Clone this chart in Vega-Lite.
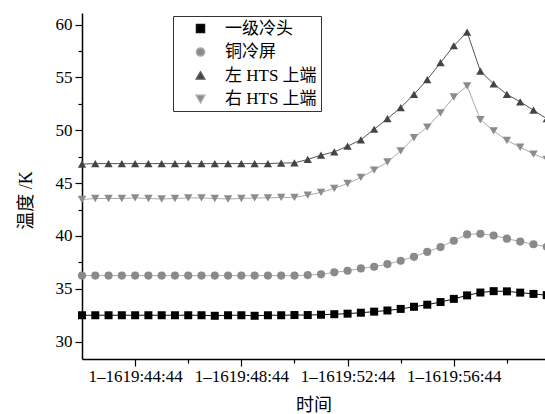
{
  "$schema": "https://vega.github.io/schema/vega-lite/v6.json",
  "width": 463,
  "height": 346,
  "autosize": {"type": "none"},
  "padding": {"left": 82, "top": 13, "right": 0, "bottom": 55},
  "background": "white",
  "config": {
    "view": {"stroke": null},
    "font": "Liberation Serif, Noto Sans CJK SC",
    "axis": {
      "grid": false,
      "domainColor": "#000",
      "tickColor": "#000",
      "labelColor": "#000",
      "titleColor": "#000",
      "labelFont": "Liberation Serif, Noto Sans CJK SC",
      "titleFont": "Liberation Serif, Noto Sans CJK SC",
      "titleFontWeight": "normal",
      "domainWidth": 1.5,
      "tickWidth": 1.2
    },
    "legend": {"labelFont": "Liberation Serif, Noto Sans CJK SC"}
  },
  "data": {
    "values": [
      {"time": "2016-01-16T19:42:44", "一级冷头": 32.5, "铜冷屏": 36.25, "左 HTS 上端": 46.8, "右 HTS 上端": 43.45},
      {"time": "2016-01-16T19:43:14", "一级冷头": 32.5, "铜冷屏": 36.25, "左 HTS 上端": 46.85, "右 HTS 上端": 43.55},
      {"time": "2016-01-16T19:43:44", "一级冷头": 32.5, "铜冷屏": 36.25, "左 HTS 上端": 46.85, "右 HTS 上端": 43.55},
      {"time": "2016-01-16T19:44:14", "一级冷头": 32.5, "铜冷屏": 36.25, "左 HTS 上端": 46.85, "右 HTS 上端": 43.55},
      {"time": "2016-01-16T19:44:44", "一级冷头": 32.5, "铜冷屏": 36.25, "左 HTS 上端": 46.85, "右 HTS 上端": 43.6},
      {"time": "2016-01-16T19:45:14", "一级冷头": 32.5, "铜冷屏": 36.25, "左 HTS 上端": 46.85, "右 HTS 上端": 43.55},
      {"time": "2016-01-16T19:45:44", "一级冷头": 32.5, "铜冷屏": 36.25, "左 HTS 上端": 46.85, "右 HTS 上端": 43.5},
      {"time": "2016-01-16T19:46:14", "一级冷头": 32.5, "铜冷屏": 36.25, "左 HTS 上端": 46.85, "右 HTS 上端": 43.55},
      {"time": "2016-01-16T19:46:44", "一级冷头": 32.5, "铜冷屏": 36.25, "左 HTS 上端": 46.85, "右 HTS 上端": 43.6},
      {"time": "2016-01-16T19:47:14", "一级冷头": 32.5, "铜冷屏": 36.25, "左 HTS 上端": 46.85, "右 HTS 上端": 43.6},
      {"time": "2016-01-16T19:47:44", "一级冷头": 32.45, "铜冷屏": 36.25, "左 HTS 上端": 46.85, "右 HTS 上端": 43.55},
      {"time": "2016-01-16T19:48:14", "一级冷头": 32.5, "铜冷屏": 36.25, "左 HTS 上端": 46.85, "右 HTS 上端": 43.5},
      {"time": "2016-01-16T19:48:44", "一级冷头": 32.5, "铜冷屏": 36.25, "左 HTS 上端": 46.85, "右 HTS 上端": 43.55},
      {"time": "2016-01-16T19:49:14", "一级冷头": 32.45, "铜冷屏": 36.25, "左 HTS 上端": 46.85, "右 HTS 上端": 43.6},
      {"time": "2016-01-16T19:49:44", "一级冷头": 32.5, "铜冷屏": 36.25, "左 HTS 上端": 46.85, "右 HTS 上端": 43.6},
      {"time": "2016-01-16T19:50:14", "一级冷头": 32.5, "铜冷屏": 36.25, "左 HTS 上端": 46.9, "右 HTS 上端": 43.65},
      {"time": "2016-01-16T19:50:44", "一级冷头": 32.52, "铜冷屏": 36.25, "左 HTS 上端": 46.92, "右 HTS 上端": 43.65},
      {"time": "2016-01-16T19:51:14", "一级冷头": 32.52, "铜冷屏": 36.3, "左 HTS 上端": 47.24, "右 HTS 上端": 43.87},
      {"time": "2016-01-16T19:51:44", "一级冷头": 32.55, "铜冷屏": 36.37, "左 HTS 上端": 47.65, "右 HTS 上端": 44.12},
      {"time": "2016-01-16T19:52:14", "一级冷头": 32.6, "铜冷屏": 36.56, "左 HTS 上端": 47.96, "右 HTS 上端": 44.5},
      {"time": "2016-01-16T19:52:44", "一级冷头": 32.65, "铜冷屏": 36.71, "左 HTS 上端": 48.5, "右 HTS 上端": 44.97},
      {"time": "2016-01-16T19:53:14", "一级冷头": 32.74, "铜冷屏": 36.93, "左 HTS 上端": 49.1, "右 HTS 上端": 45.54},
      {"time": "2016-01-16T19:53:44", "一级冷头": 32.84, "铜冷屏": 37.09, "左 HTS 上端": 50.1, "右 HTS 上端": 46.23},
      {"time": "2016-01-16T19:54:14", "一级冷头": 32.95, "铜冷屏": 37.34, "左 HTS 上端": 51.1, "右 HTS 上端": 47.0},
      {"time": "2016-01-16T19:54:44", "一级冷头": 33.1, "铜冷屏": 37.66, "左 HTS 上端": 52.15, "右 HTS 上端": 48.05},
      {"time": "2016-01-16T19:55:14", "一级冷头": 33.3, "铜冷屏": 38.03, "左 HTS 上端": 53.4, "右 HTS 上端": 49.3},
      {"time": "2016-01-16T19:55:44", "一级冷头": 33.5, "铜冷屏": 38.5, "左 HTS 上端": 54.8, "右 HTS 上端": 50.3},
      {"time": "2016-01-16T19:56:14", "一级冷头": 33.75, "铜冷屏": 38.95, "左 HTS 上端": 56.4, "右 HTS 上端": 51.65},
      {"time": "2016-01-16T19:56:44", "一级冷头": 34.05, "铜冷屏": 39.55, "左 HTS 上端": 58.0, "右 HTS 上端": 53.15},
      {"time": "2016-01-16T19:57:14", "一级冷头": 34.38, "铜冷屏": 40.15, "左 HTS 上端": 59.3, "右 HTS 上端": 54.2},
      {"time": "2016-01-16T19:57:44", "一级冷头": 34.65, "铜冷屏": 40.2, "左 HTS 上端": 55.6, "右 HTS 上端": 51.0},
      {"time": "2016-01-16T19:58:14", "一级冷头": 34.78, "铜冷屏": 40.05, "左 HTS 上端": 54.4, "右 HTS 上端": 49.95},
      {"time": "2016-01-16T19:58:44", "一级冷头": 34.76, "铜冷屏": 39.75, "左 HTS 上端": 53.4, "右 HTS 上端": 49.05},
      {"time": "2016-01-16T19:59:14", "一级冷头": 34.64, "铜冷屏": 39.47, "左 HTS 上端": 52.7, "右 HTS 上端": 48.4},
      {"time": "2016-01-16T19:59:44", "一级冷头": 34.52, "铜冷屏": 39.22, "左 HTS 上端": 51.9, "右 HTS 上端": 47.75},
      {"time": "2016-01-16T20:00:14", "一级冷头": 34.4, "铜冷屏": 38.98, "左 HTS 上端": 51.1, "右 HTS 上端": 47.25}
    ]
  },
  "transform": [
    {"fold": ["一级冷头", "铜冷屏", "左 HTS 上端", "右 HTS 上端"], "as": ["series", "T"]}
  ],
  "encoding": {
    "x": {
      "field": "time",
      "type": "temporal",
      "scale": {
        "nice": false,
        "domain": [
          {"year": 2016, "month": 1, "date": 16, "hours": 19, "minutes": 42, "seconds": 44},
          {"year": 2016, "month": 1, "date": 16, "hours": 20, "minutes": 0, "seconds": 10}
        ]
      },
      "axis": {
        "values": [
          {"year": 2016, "month": 1, "date": 16, "hours": 19, "minutes": 44, "seconds": 44},
          {"year": 2016, "month": 1, "date": 16, "hours": 19, "minutes": 46, "seconds": 44},
          {"year": 2016, "month": 1, "date": 16, "hours": 19, "minutes": 48, "seconds": 44},
          {"year": 2016, "month": 1, "date": 16, "hours": 19, "minutes": 50, "seconds": 44},
          {"year": 2016, "month": 1, "date": 16, "hours": 19, "minutes": 52, "seconds": 44},
          {"year": 2016, "month": 1, "date": 16, "hours": 19, "minutes": 54, "seconds": 44},
          {"year": 2016, "month": 1, "date": 16, "hours": 19, "minutes": 56, "seconds": 44},
          {"year": 2016, "month": 1, "date": 16, "hours": 19, "minutes": 58, "seconds": 44}
        ],
        "labelExpr": "minutes(datum.value) % 4 == 0 ? timeFormat(datum.value, '%-m–%d%H:%M:%S') : ''",
        "tickSize": {"condition": {"test": "minutes(datum.value) % 4 == 0", "value": 7}, "value": 4},
        "labelFontSize": 17,
        "labelPadding": 2,
        "labelFlush": false,
        "labelOverlap": false,
        "title": "时间",
        "titleFontSize": 18,
        "titleY": 46,
        "titleBaseline": "middle"
      }
    },
    "y": {
      "field": "T",
      "type": "quantitative",
      "scale": {"domain": [28.36, 61.1], "nice": false, "zero": false},
      "axis": {
        "values": [30, 32.5, 35, 37.5, 40, 42.5, 45, 47.5, 50, 52.5, 55, 57.5, 60],
        "labelExpr": "datum.value % 5 == 0 ? datum.label : ''",
        "tickSize": {"condition": {"test": "datum.value % 5 == 0", "value": 7}, "value": 4},
        "labelFontSize": 17,
        "labelPadding": 3,
        "title": "温度 /K",
        "titleFontSize": 18,
        "titleX": -56,
        "titleY": 187,
        "titleBaseline": "middle"
      }
    }
  },
  "layer": [
    {
      "mark": {"type": "line", "strokeWidth": 1},
      "encoding": {
        "stroke": {
          "field": "series",
          "type": "nominal",
          "scale": {"domain": ["一级冷头", "铜冷屏", "左 HTS 上端", "右 HTS 上端"], "range": ["#111111", "#aaaaaa", "#555555", "#aaaaaa"]}
        }
      }
    },
    {
      "mark": {"type": "point", "filled": true, "opacity": 1},
      "encoding": {
        "color": {
          "field": "series",
          "type": "nominal",
          "scale": {"domain": ["一级冷头", "铜冷屏", "左 HTS 上端", "右 HTS 上端"], "range": ["#000000", "#8a8a8a", "#444444", "#8c8c8c"]},
          "legend": {
            "orient": "none",
            "legendX": 91,
            "legendY": 3,
            "title": null,
            "padding": 4,
            "strokeColor": "#333333",
            "fillColor": "white",
            "labelFontSize": 17,
            "labelColor": "#000",
            "rowPadding": 5.5,
            "symbolOffset": 15,
            "labelOffset": 16,
            "labelLimit": 300
          }
        },
        "shape": {
          "field": "series",
          "type": "nominal",
          "scale": {"domain": ["一级冷头", "铜冷屏", "左 HTS 上端", "右 HTS 上端"], "range": ["square", "circle", "triangle-up", "triangle-down"]}
        },
        "size": {
          "field": "series",
          "type": "nominal",
          "scale": {"domain": ["一级冷头", "铜冷屏", "左 HTS 上端", "右 HTS 上端"], "range": [64, 72, 120, 120]}
        }
      }
    }
  ]
}
